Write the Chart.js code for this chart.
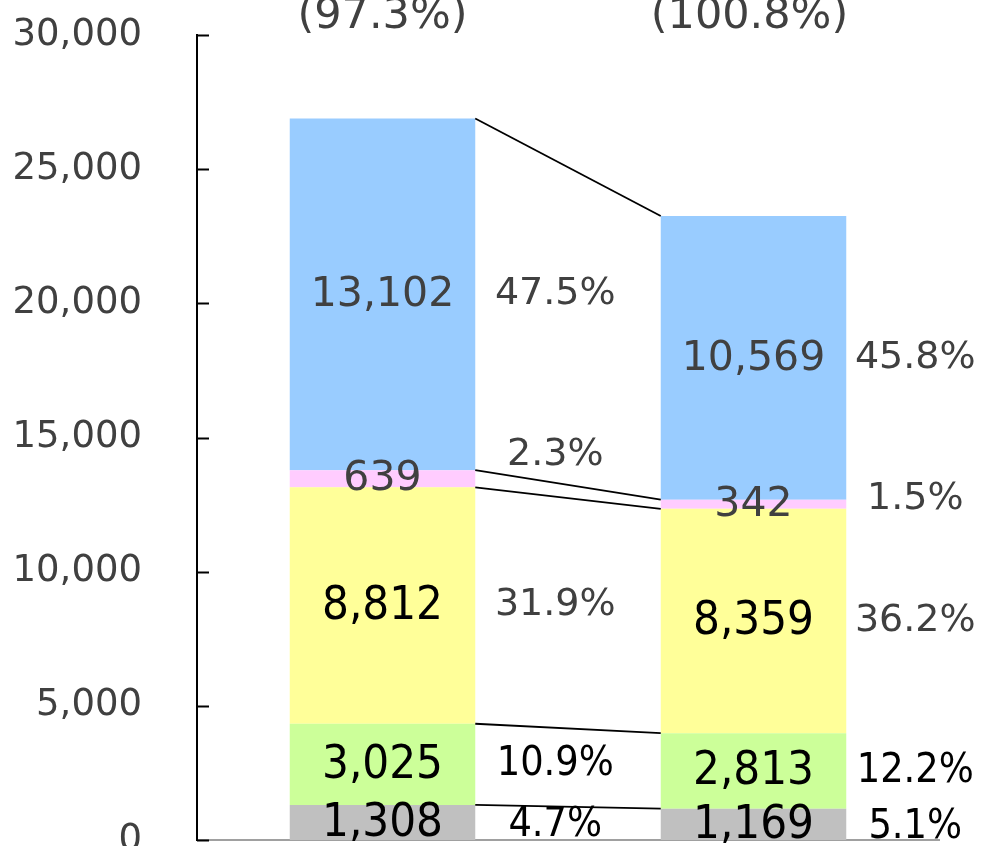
<!DOCTYPE html>
<html>
<head>
<meta charset="utf-8">
<script src="https://cdn.jsdelivr.net/npm/chart.js@4.4.0/dist/chart.umd.min.js"></script>
<style>
  html, body { margin: 0; padding: 0; background: #fff; }
  #wrap { width: 983px; height: 846px; }
</style>
</head>
<body>
<div id="wrap"><canvas id="chart" width="983" height="846"></canvas></div>
<script>
// two bars, previous vs current
const categories = ['Previous', 'Current'];
const totalRatio = ['(97.3%)', '(100.8%)'];

const grayVals = [1308, 1169];
const greenVals = [3025, 2813];
const yellowVals = [8812, 8359];
const pinkVals = [639, 342];
const blueVals = [13102, 10569];

const grayShare = ['4.7%', '5.1%'];
const greenShare = ['10.9%', '12.2%'];
const yellowShare = ['31.9%', '36.2%'];
const pinkShare = ['2.3%', '1.5%'];
const blueShare = ['47.5%', '45.8%'];

const yTicks = [0, 5000, 10000, 15000, 20000, 25000, 30000];

const NORMAL = '"DejaVu Sans", Verdana, sans-serif';
const NARROW = '"DejaVu Sans Condensed", "Liberation Sans Narrow", "DejaVu Sans", sans-serif';

const series = [
  { label: 'gray', data: grayVals, share: grayShare, color: '#C0C0C0', txt: '#000', narrow: true },
  { label: 'green', data: greenVals, share: greenShare, color: '#CCFF99', txt: '#000', narrow: true },
  { label: 'yellow', data: yellowVals, share: yellowShare, color: '#FFFF99', txt: '#000', narrow: true, pctGray: true },
  { label: 'pink', data: pinkVals, share: pinkShare, color: '#FFCCFF', txt: '#404040', narrow: false },
  { label: 'blue', data: blueVals, share: blueShare, color: '#99CCFF', txt: '#404040', narrow: false }
];

const fmt = v => v.toLocaleString('en-US');

const labelPlugin = {
  id: 'labels',
  afterDatasetsDraw(chart) {
    const ctx = chart.ctx;
    const x = chart.scales.x, y = chart.scales.y;
    ctx.save();

    // inward tick marks on y axis
    ctx.strokeStyle = '#000';
    ctx.lineWidth = 2;
    yTicks.forEach(t => {
      const py = Math.round(y.getPixelForValue(t)) + 0.5;
      ctx.beginPath();
      ctx.moveTo(x.left, py);
      ctx.lineTo(x.left + 12, py);
      ctx.stroke();
    });

    // connector lines between stack tops
    const metas = series.map((s, i) => chart.getDatasetMeta(i));
    ctx.lineWidth = 1.8;
    metas.forEach(m => {
      const a = m.data[0], b = m.data[1];
      ctx.beginPath();
      ctx.moveTo(a.x + a.width / 2, a.y);
      ctx.lineTo(b.x - b.width / 2, b.y);
      ctx.stroke();
    });

    ctx.textAlign = 'center';
    ctx.textBaseline = 'middle';
    const pctGap = [80, 69];
    series.forEach((s, i) => {
      metas[i].data.forEach((bar, j) => {
        const mid = (bar.y + bar.base) / 2;
        // value inside bar
        if (s.narrow) {
          ctx.font = '47px ' + NARROW;
        } else {
          ctx.font = '41px ' + NORMAL;
        }
        ctx.fillStyle = s.txt;
        ctx.fillText(fmt(s.data[j]), bar.x, mid + 1);

        // share beside bar
        let py = mid;
        if (s.label === 'pink') py += (j === 0 ? -24 : -5);
        if (s.label === 'gray') py += 3;
        if (s.narrow && !s.pctGray) {
          ctx.font = '41px ' + NARROW;
          ctx.fillStyle = '#000';
        } else {
          ctx.font = '38px ' + NORMAL;
          ctx.fillStyle = '#404040';
        }
        ctx.fillText(s.share[j], bar.x + bar.width / 2 + pctGap[j], py);
      });
    });

    // ratio labels above (partly cut off at top)
    ctx.font = '43px ' + NORMAL;
    ctx.fillStyle = '#404040';
    ctx.textBaseline = 'alphabetic';
    totalRatio.forEach((t, j) => {
      ctx.fillText(t, x.getPixelForValue(j) + (j === 0 ? 0 : -4), 28);
    });
    ctx.restore();
  }
};

new Chart(document.getElementById('chart').getContext('2d'), {
  type: 'bar',
  data: {
    labels: categories,
    datasets: series.map(s => ({
      label: s.label,
      data: s.data,
      backgroundColor: s.color,
      borderWidth: 0,
      categoryPercentage: 1,
      barPercentage: 0.5
    }))
  },
  options: {
    responsive: false,
    animation: false,
    layout: { padding: { top: 35, right: 44, left: 0, bottom: 0 } },
    plugins: { legend: { display: false }, tooltip: { enabled: false } },
    scales: {
      x: {
        stacked: true,
        grid: { display: false, drawTicks: false },
        border: { display: true, color: '#A0A0A0', width: 2 },
        ticks: { display: false },
        afterFit: s => { s.height = 6; s.paddingLeft = 0; s.paddingRight = 0; }
      },
      y: {
        stacked: true,
        min: 0,
        max: 30000,
        grid: { display: false, drawTicks: false },
        border: { display: true, color: '#000', width: 2 },
        afterFit: s => { s.width = 197; s.paddingTop = 0; s.paddingBottom = 0; },
        afterBuildTicks: s => { s.ticks = yTicks.map(v => ({ value: v })); },
        ticks: {
          padding: 55,
          color: '#404040',
          font: { family: NORMAL, size: 37 },
          callback: v => fmt(v)
        }
      }
    }
  },
  plugins: [labelPlugin]
});
</script>
</body>
</html>
